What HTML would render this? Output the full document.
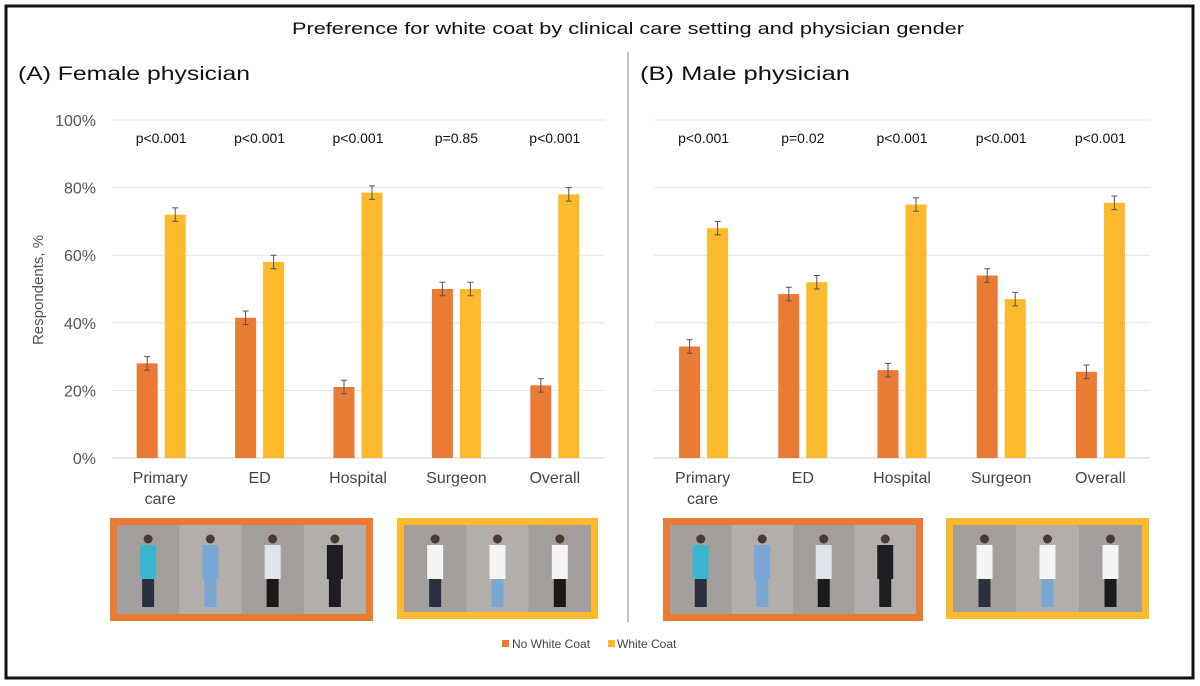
<!DOCTYPE html>
<html><head><meta charset="utf-8"><style>
html,body{margin:0;padding:0;background:#fff;width:1200px;height:686px;overflow:hidden}
svg{display:block;font-family:"Liberation Sans",sans-serif}
</style></head><body>
<svg id="c" width="1200" height="686" viewBox="0 0 1200 686">
<rect x="6" y="6" width="1187" height="672" fill="#fff" stroke="#111" stroke-width="3"/>
<text x="628" y="34" text-anchor="middle" font-size="17" textLength="672" lengthAdjust="spacingAndGlyphs" fill="#111">Preference for white coat by clinical care setting and physician gender</text>
<line x1="628" y1="52" x2="628" y2="622" stroke="#888" stroke-width="1"/>
<text x="18" y="80" font-size="19" textLength="232" lengthAdjust="spacingAndGlyphs" fill="#111">(A) Female physician</text>
<text x="640" y="80" font-size="19" textLength="210" lengthAdjust="spacingAndGlyphs" fill="#111">(B) Male physician</text>
<text transform="translate(43,290) rotate(-90)" text-anchor="middle" font-size="15" fill="#555">Respondents, %</text>
<g id="plots"></g>
<g id="photos"></g>
<rect x="502" y="640" width="7" height="7" fill="#E97B35"/>
<text x="512" y="648" font-size="12" fill="#444">No White Coat</text>
<rect x="608" y="640" width="7" height="7" fill="#FBB92B"/>
<text x="617" y="648" font-size="12" fill="#444">White Coat</text>
</svg>
<script>
const categories = ["Primary care","ED","Hospital","Surgeon","Overall"];
const femaleNoCoat = [28, 41.5, 21, 50, 21.5];
const femaleCoat = [72, 58, 78.5, 50, 78];
const maleNoCoat = [33, 48.5, 26, 54, 25.5];
const maleCoat = [68, 52, 75, 47, 75.5];
const femaleP = ["p<0.001","p<0.001","p<0.001","p=0.85","p<0.001"];
const maleP = ["p<0.001","p=0.02","p<0.001","p<0.001","p<0.001"];
const yTicks = [0,20,40,60,80,100];
const errHalf = 2;

const NS = "http://www.w3.org/2000/svg";
const plots = document.getElementById('plots');
function mk(tag, attrs, parent){
  const e = document.createElementNS(NS, tag);
  for (const k in attrs) e.setAttribute(k, attrs[k]);
  (parent||plots).appendChild(e);
  return e;
}
const y0 = 458, y100 = 120;
function yScale(v){ return y0 - (y0 - y100) * v / 100; }

function panel(prefix, x0, x1, noCoat, coat, pvals, showTicks){
  const g = mk('g', {});
  
  
  yTicks.forEach(t => {
    const l = mk('line', {x1:x0, x2:x1, y1:yScale(t), y2:yScale(t), stroke: t===0 ? '#d0d0d0' : '#e4e4e4', 'stroke-width':1}, g);
    
    
    if (showTicks) {
      const tx = mk('text', {x:x0-16, y:yScale(t)+6, 'text-anchor':'end', 'font-size':16, fill:'#555'}, g);
      tx.textContent = t + '%';
      
      
    }
  });
  const step = (x1 - x0) / categories.length;
  const bw = 21;
  categories.forEach((c, i) => {
    const cx = x0 + step * (i + 0.5);
    const series = [[noCoat[i], '#E97B35', cx - bw - 3.5, 'no-white-coat'], [coat[i], '#FBB92B', cx + 3.5, 'white-coat']];
    series.forEach(([v, col, bx, nm]) => {
      const r = mk('rect', {x:bx, y:yScale(v), width:bw, height:y0 - yScale(v), fill:col}, g);
      
      
      const ex = bx + bw/2;
      const e = mk('path', {d:`M${ex},${yScale(v+errHalf)}V${yScale(v-errHalf)}M${ex-3},${yScale(v+errHalf)}H${ex+3}M${ex-3},${yScale(v-errHalf)}H${ex+3}`, stroke:'#555', 'stroke-width':1, fill:'none'}, g);
      
      
    });
    const p = mk('text', {x:cx, y:143, 'text-anchor':'middle', 'font-size':14, fill:'#111'}, g);
    p.textContent = pvals[i];
    
    
    const words = c === 'Primary care' ? ['Primary','care'] : [c];
    words.forEach((w, k) => {
      const t = mk('text', {x:cx - (c==='Primary care'?1:0), y:483 + k*21, 'text-anchor':'middle', 'font-size':16, fill:'#444'}, g);
      t.textContent = w;
      
      
    });
  });
}
panel('female', 112, 604, femaleNoCoat, femaleCoat, femaleP, true);
panel('male', 654, 1150, maleNoCoat, maleCoat, maleP, false);

// photo strips
const photos = document.getElementById('photos');
function strip(name, x, y, w, h, border, n, coats){
  const g = mk('g', {}, photos);
  
  
  mk('rect', {x:x, y:y, width:w, height:h, fill:border}, g);
  const ix = x+7, iy = y+7, iw = w-14, ih = h-14;
  mk('rect', {x:ix, y:iy, width:iw, height:ih, fill:'#a9a6a3'}, g);
  const cw = iw / n;
  for (let i=0;i<n;i++){
    const px = ix + cw*i + cw/2;
    mk('rect', {x:ix+cw*i, y:iy, width:cw, height:ih, fill: i%2 ? '#b1aeab' : '#a29f9c'}, g);
    mk('circle', {cx:px, cy:iy+14, r:4.5, fill:'#4a3a30'}, g);
    mk('rect', {x:px-8, y:iy+20, width:16, height:34, fill:coats[i][0]}, g);
    mk('rect', {x:px-6, y:iy+54, width:12, height:28, fill:coats[i][1]}, g);
  }
}
strip('female-no-coat-photos', 110, 518, 263, 103, '#E97B35', 4, [['#3bb8d0','#2a3040'],['#7ba7d4','#7ba7d4'],['#dfe3ea','#1a1a1a'],['#1d1d22','#1d1d22']]);
strip('female-white-coat-photos', 397, 518, 201, 101, '#FBB92B', 3, [['#f4f4f4','#2a3040'],['#f4f4f4','#7ba7d4'],['#f4f4f4','#1a1a1a']]);
strip('male-no-coat-photos', 663, 518, 260, 103, '#E97B35', 4, [['#3bb8d0','#2a3040'],['#7ba7d4','#7ba7d4'],['#dfe3ea','#1a1a1a'],['#1d1d22','#1d1d22']]);
strip('male-white-coat-photos', 946, 518, 203, 101, '#FBB92B', 3, [['#f4f4f4','#2a3040'],['#f4f4f4','#7ba7d4'],['#f4f4f4','#1a1a1a']]);
</script>
</body></html>
